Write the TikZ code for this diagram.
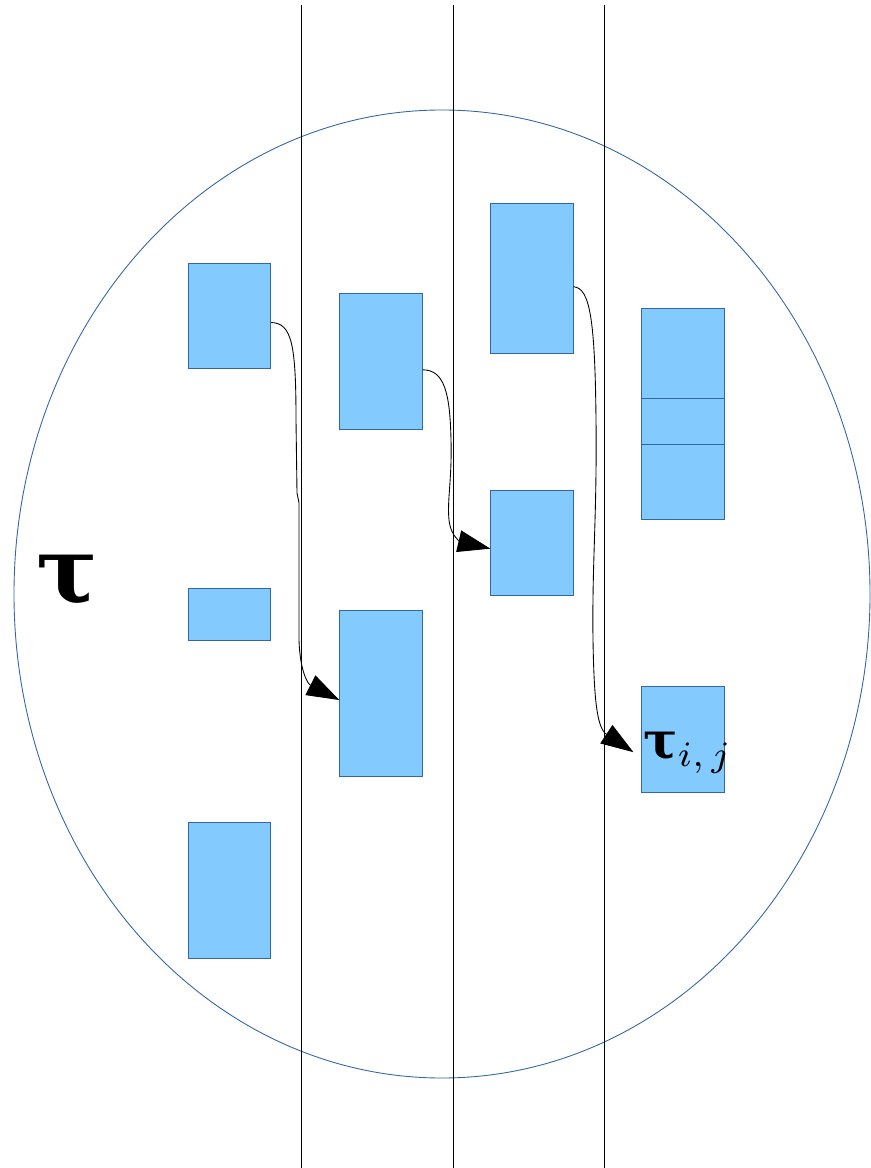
\documentclass[tikz,border=0pt]{standalone}
\usepackage{amsmath}
\usepackage{fontspec}
\newfontfamily\greekfont{DejaVu Serif}
\usetikzlibrary{arrows.meta}

\definecolor{boxfill}{HTML}{83CAFF}
\definecolor{boxline}{HTML}{3465A4}

\tikzset{
    box/.style={draw=boxline, fill=boxfill, line width=0.5pt, inner sep=0pt, minimum width=1.65cm},
    flow/.style={line width=0.5pt, -{Triangle[length=18.5pt, width=12.5pt]}},
}

\begin{document}
\begin{tikzpicture}[x=0.02cm, y=-0.02cm]
            \useasboundingbox (0,0) rectangle (870,1168);

            % set and its parts
            \draw[boxline, line width=0.5pt] (442,594) ellipse [x radius=428, y radius=484];
            \node[scale=5.2] (tau) at (67,581) {\greekfont\bfseries τ};

            % column borders
            \coordinate (l1top) at (301,5); \coordinate (l1bot) at (301,1168);
            \coordinate (l2top) at (453,5); \coordinate (l2bot) at (453,1168);
            \coordinate (l3top) at (604,5); \coordinate (l3bot) at (604,1168);
            \draw[line width=0.45pt] (l1top) -- (l1bot);
            \draw[line width=0.45pt] (l2top) -- (l2bot);
            \draw[line width=0.45pt] (l3top) -- (l3bot);

            \node[box, minimum height=2.10cm] (A1) at (229.5,315.5) {};
            \node[box, minimum height=1.04cm] (A2) at (229.5,614) {};
            \node[box, minimum height=2.72cm] (A3) at (229.5,890) {};
            \node[box, minimum height=2.72cm] (B1) at (381,361) {};
            \node[box, minimum height=3.32cm] (B2) at (381,693) {};
            \node[box, minimum height=3.00cm] (C1) at (532,278) {};
            \node[box, minimum height=2.10cm] (C2) at (532,542.5) {};
            \node[box, minimum height=1.80cm] (D1a) at (683,353) {};
            \node[box, minimum height=0.92cm] (D1b) at (683,421) {};
            \node[box, minimum height=1.50cm] (D1c) at (683,481.5) {};
            \node[box, minimum height=2.12cm] (D2) at (683,739) {};
            \node[scale=2.9] (tij) at (688,753) {\(\text{\greekfont\bfseries τ}_{i,\,j}\)};

            \draw[flow] ([yshift=-4pt]A1.east) .. controls (292,323) and (296,345) .. (296,420)
                -- (297,493) -- (299,503) -- (299,640) .. controls (300,672) and (308,684) .. ([yshift=-4pt]B2.west);
            \draw[flow] ([yshift=-5pt]B1.east) .. controls (444,370) and (450,392) .. (451,440)
                .. controls (452,480) and (447,500) .. (449,520) .. controls (451,538) and (462,542) .. ([yshift=-3.5pt]C2.west);
            \draw[flow] ([yshift=-5pt]C1.east) .. controls (590,288) and (595,320) .. (596,420)
                .. controls (597,520) and (592,560) .. (593,640) .. controls (594,700) and (597,728) .. ([xshift=-4.5pt, yshift=-7.5pt]D2.west);
        \end{tikzpicture}
\end{document}
